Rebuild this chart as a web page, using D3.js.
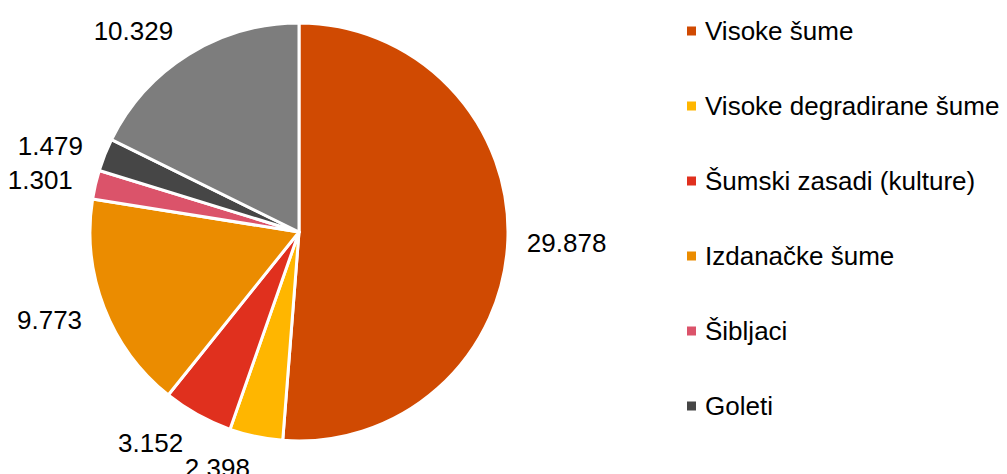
<!DOCTYPE html>
<html>
<head>
<meta charset="utf-8">
<script src="https://cdn.jsdelivr.net/npm/d3@7"></script>
<style>
  body { margin: 0; background: #fff; }
  svg text { font-family: "Liberation Sans", Arial, sans-serif; fill: #000; }
</style>
</head>
<body>
<svg id="chart" width="1007" height="474"></svg>
<script>
// values
const categories = ['Visoke šume', 'Visoke degradirane šume', 'Šumski zasadi (kulture)',
  'Izdanačke šume', 'Šibljaci', 'Goleti', 'Ostalo'];
const values = [29.878, 2.398, 3.152, 9.773, 1.301, 1.479, 10.329];
const labels = ['29.878', '2.398', '3.152', '9.773', '1.301', '1.479', '10.329'];
const colors = ['#D04A02', '#FFB600', '#E0301E', '#EB8C00', '#DB536A', '#464646', '#7D7D7D'];

const data = categories.map((c, i) => ({ name: c, value: values[i], label: labels[i], color: colors[i] }));

const svg = d3.select('#chart');
const cx = 299, cy = 232, radius = 209;

const pie = d3.pie()
  .sort(null)
  .value(d => d.value)
  .startAngle(0)
  .endAngle(2 * Math.PI);

const arc = d3.arc().innerRadius(0).outerRadius(radius);

const chart = svg.append('g')
  .attr('transform', `translate(${cx}, ${cy})`);

const arcs = pie(data);

chart.selectAll('path.slice')
  .data(arcs)
  .enter()
  .append('path')
  .attr('class', 'slice')
  .attr('d', arc)
  .attr('fill', d => d.data.color)
  .attr('stroke', '#fff')
  .attr('stroke-width', 3)
  .attr('stroke-linejoin', 'round');

// outside-end labels
const labelR = radius + 16;
const midAngle = d => (d.startAngle + d.endAngle) / 2;

arcs.forEach(d => {
  const a = midAngle(d);
  const s = Math.sin(a);
  const gap = s >= 0 ? 3 : -7 * Math.min(1, Math.abs(s) * 2);
  chart.append('text')
    .attr('class', 'value')
    .attr('font-size', 26)
    .attr('dy', '0.35em')
    .attr('text-anchor', s >= 0 ? 'start' : 'end')
    .attr('x', s * labelR + gap)
    .attr('y', -Math.cos(a) * (labelR + 14) + 2)
    .text(d.data.label);
});

// legend
const legend = svg.append('g')
  .attr('transform', 'translate(687, 31)');

const rows = legend.selectAll('g')
  .data(data.slice(0, 6))
  .enter()
  .append('g')
  .attr('transform', (d, i) => `translate(0, ${i * 75})`);

rows.append('rect')
  .attr('x', 0)
  .attr('y', -4.5)
  .attr('width', 9)
  .attr('height', 9)
  .attr('fill', d => d.color);

rows.append('text')
  .attr('x', 18)
  .attr('y', 0)
  .attr('font-size', 26)
  .attr('dy', '0.35em')
  .text(d => d.name);
</script>
</body>
</html>
